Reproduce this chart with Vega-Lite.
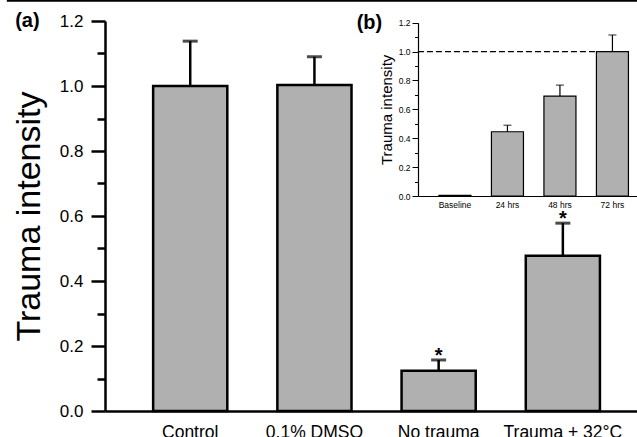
{
  "$schema": "https://vega.github.io/schema/vega-lite/v6.json",
  "width": 532,
  "height": 390,
  "autosize": "none",
  "padding": {"left": 105, "top": 21, "right": 0, "bottom": 26},
  "background": "white",
  "config": {
    "view": {"stroke": null},
    "font": "Liberation Sans",
    "axis": {"domainColor": "black", "tickColor": "black", "labelColor": "black", "titleColor": "black", "grid": false}
  },
  "datasets": {
    "main": [
      {"cond": "Control", "mean": 1.0, "err": 1.138, "sig": ""},
      {"cond": "0.1% DMSO", "mean": 1.003, "err": 1.09, "sig": ""},
      {"cond": "No trauma", "mean": 0.124, "err": 0.157, "sig": "*"},
      {"cond": "Trauma + 32°C", "mean": 0.478, "err": 0.578, "sig": "*"}
    ],
    "inset": [
      {"time": "Baseline", "mean": 0.005, "err": null},
      {"time": "24 hrs", "mean": 0.445, "err": 0.49},
      {"time": "48 hrs", "mean": 0.692, "err": 0.768},
      {"time": "72 hrs", "mean": 1.0, "err": 1.115}
    ]
  },
  "layer": [
    {
      "data": {"name": "main"},
      "encoding": {
        "x": {
          "field": "cond", "type": "nominal", "sort": null,
          "scale": {"domain": ["Control", "0.1% DMSO", "No trauma", "Trauma + 32°C"], "paddingInner": 0.403, "paddingOuter": 0.343, "align": 0.565},
          "axis": {"title": null, "labelFontSize": 17.5, "labelPadding": 12, "ticks": false, "tickSize": 0, "domainWidth": 2.5, "labelAngle": 0}
        },
        "y": {
          "field": "mean", "type": "quantitative",
          "scale": {"domain": [0, 1.2], "nice": false, "zero": true},
          "axis": {
            "title": "Trauma intensity", "titleFontSize": 34, "titleFontWeight": "normal", "titlePadding": 13,
            "values": [0, 0.1, 0.2, 0.3, 0.4, 0.5, 0.6, 0.7, 0.8, 0.9, 1.0, 1.1, 1.2],
            "labelExpr": "round(datum.value*10)%2==0 ? format(datum.value, '.1f') : ''",
            "tickSize": {"condition": {"test": "round(datum.value*10)%2==0", "value": 14}, "value": 8},
            "tickWidth": 2.5, "domainWidth": 2.5, "labelFontSize": 17, "labelPadding": 8
          }
        }
      },
      "layer": [
        {"mark": {"type": "bar", "fill": "#b0b0b0", "stroke": "black", "strokeWidth": 2.5}},
        {"mark": {"type": "rule", "color": "black", "strokeWidth": 2.5}, "encoding": {"y2": {"field": "err"}}},
        {"mark": {"type": "tick", "color": "black", "size": 15, "thickness": 3}, "encoding": {"y": {"field": "err", "type": "quantitative"}}},
        {"mark": {"type": "text", "fontSize": 20, "fontWeight": "bold", "baseline": "alphabetic", "dy": 2, "color": "black"}, "encoding": {"y": {"field": "err", "type": "quantitative"}, "text": {"field": "sig"}}},
        {"data": {"values": [{"panel": "(a)", "lvl": 1.2}]}, "mark": {"type": "text", "fontSize": 20, "fontWeight": "bold", "align": "center", "baseline": "middle", "color": "black"}, "encoding": {"x": {"datum": "Control", "bandPosition": -1.696}, "y": {"field": "lvl", "type": "quantitative"}, "text": {"field": "panel", "type": "nominal"}}},
        {"data": {"values": [{"edge": "top", "lvl": 1.262}]}, "mark": {"type": "rule", "color": "black", "strokeWidth": 2}, "encoding": {"x": {"datum": "Control", "bandPosition": -1.973}, "x2": {"datum": "Trauma + 32°C", "bandPosition": 1.523}, "y": {"field": "lvl", "type": "quantitative"}}}
      ]
    },
    {
      "data": {"name": "inset"},
      "encoding": {
        "x": {
          "field": "time", "type": "nominal", "sort": null,
          "scale": {"domain": ["Baseline", "24 hrs", "48 hrs", "72 hrs"], "range": [313, 532], "paddingInner": 0.39, "paddingOuter": 0.281, "align": 0.71},
          "axis": {"orient": "bottom", "offset": -215, "title": null, "labelFontSize": 8.5, "labelPadding": 4, "ticks": false, "tickSize": 0, "domainWidth": 1.2, "labelAngle": 0}
        },
        "y": {
          "field": "mean", "type": "quantitative",
          "scale": {"domain": [0, 1.2], "nice": false, "range": [175, 1.7]},
          "axis": {
            "orient": "left", "offset": -313,
            "title": "Trauma intensity", "titleFontSize": 15, "titleFontWeight": "normal", "titlePadding": 4,
            "values": [0, 0.1, 0.2, 0.3, 0.4, 0.5, 0.6, 0.7, 0.8, 0.9, 1.0, 1.1, 1.2],
            "labelExpr": "round(datum.value*10)%2==0 ? format(datum.value, '.1f') : ''",
            "tickSize": {"condition": {"test": "round(datum.value*10)%2==0", "value": 6}, "value": 3.5},
            "tickWidth": 1, "domainWidth": 1.2, "labelFontSize": 8.5, "labelPadding": 2
          }
        }
      },
      "layer": [
        {"mark": {"type": "rule", "color": "black", "strokeWidth": 1.2, "strokeDash": [6, 3]}, "data": {"values": [{"ref": 1.0}]}, "encoding": {"x": {"datum": "Baseline", "bandPosition": -0.656}, "x2": {"datum": "72 hrs"}, "y": {"field": "ref", "type": "quantitative"}}},
        {"mark": {"type": "bar", "fill": "#b0b0b0", "stroke": "black", "strokeWidth": 1.2}},
        {"transform": [{"filter": "datum.err != null"}], "mark": {"type": "rule", "color": "black", "strokeWidth": 1.2}, "encoding": {"y2": {"field": "err"}}},
        {"transform": [{"filter": "datum.err != null"}], "mark": {"type": "tick", "color": "black", "size": 8, "thickness": 1.2}, "encoding": {"y": {"field": "err", "type": "quantitative"}}},
        {"data": {"values": [{"panel": "(b)", "lvl": 1.2}]}, "mark": {"type": "text", "fontSize": 20, "fontWeight": "bold", "align": "center", "baseline": "middle", "color": "black"}, "encoding": {"x": {"datum": "Baseline", "bandPosition": -2.17}, "y": {"field": "lvl", "type": "quantitative"}, "text": {"field": "panel", "type": "nominal"}}}
      ]
    }
  ],
  "resolve": {"scale": {"x": "independent", "y": "independent"}, "axis": {"x": "independent", "y": "independent"}}
}
